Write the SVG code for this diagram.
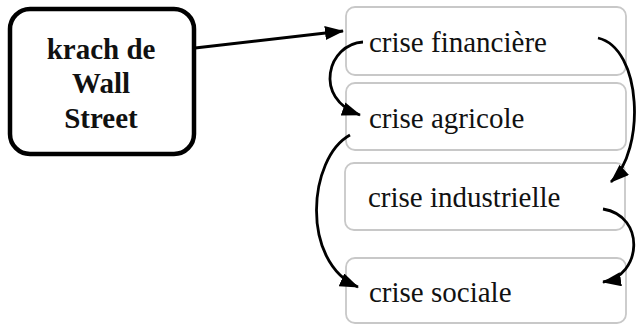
<svg xmlns="http://www.w3.org/2000/svg" width="637" height="326" viewBox="0 0 637 326">
<style>
.box{fill:#fff;stroke:#c8c8c8;stroke-width:1.8}
.main{fill:#fff;stroke:#000;stroke-width:4.5}
.t{font-size:29px;fill:#111}
.b{font-size:29px;font-weight:bold;fill:#111;text-anchor:middle}
.c{fill:none;stroke:#000;stroke-width:2.8}
</style>
<defs>
<marker id="ah" markerUnits="userSpaceOnUse" markerWidth="20" markerHeight="16" refX="18" refY="7" orient="auto">
<path d="M0,0 L19,7 L0,14 Z" fill="#000"/>
</marker>
</defs>
<rect width="637" height="326" fill="#fff"/>
<g id="krach" font-family="Liberation Serif, serif">
<rect class="main" x="10" y="9" width="184" height="145" rx="20"/>
<text class="b" x="101" y="59">krach de</text>
<text class="b" x="101" y="93">Wall</text>
<text class="b" x="101" y="128">Street</text>
</g>
<g id="financiere" font-family="Liberation Serif, serif">
<rect class="box" x="346" y="7" width="280" height="68" rx="9"/>
<text class="t" x="369" y="52">crise financière</text>
</g>
<g id="agricole" font-family="Liberation Serif, serif">
<rect class="box" x="346" y="83" width="280" height="67" rx="9"/>
<text class="t" x="369" y="128">crise agricole</text>
</g>
<g id="industrielle" font-family="Liberation Serif, serif">
<rect class="box" x="345" y="163" width="280" height="67" rx="9"/>
<text class="t" x="368" y="207">crise industrielle</text>
</g>
<g id="sociale" font-family="Liberation Serif, serif">
<rect class="box" x="346" y="258" width="280" height="65" rx="9"/>
<text class="t" x="369" y="302">crise sociale</text>
</g>
<g id="connectors">
<path class="c" d="M195,48 L343,31" marker-end="url(#ah)"/>
<path class="c" d="M363,42 C328,44 312,98 360,115" marker-end="url(#ah)"/>
<path class="c" d="M598,38 C642,48 646,150 611,182" marker-end="url(#ah)"/>
<path class="c" d="M350,135 C308,158 300,262 358,287" marker-end="url(#ah)"/>
<path class="c" d="M603,209 C646,216 642,276 603,282" marker-end="url(#ah)"/>
</g>
</svg>
